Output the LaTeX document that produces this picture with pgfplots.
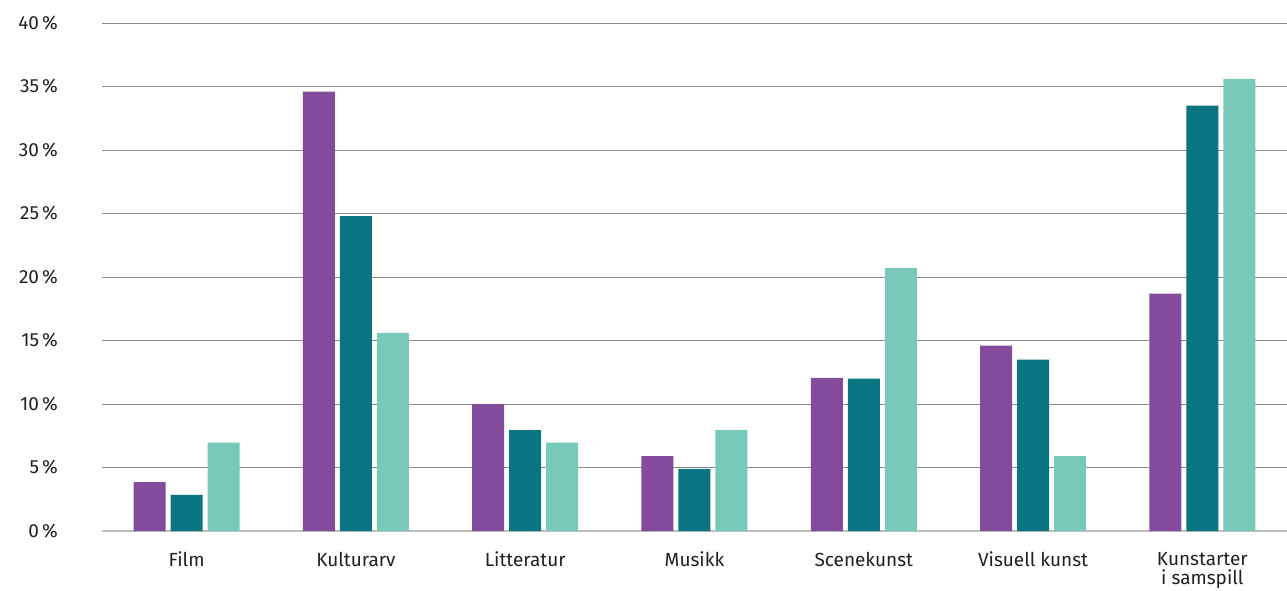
\documentclass[border=0pt]{standalone}
\usepackage{pgfplots}
\pgfplotsset{compat=1.18}
\usepackage{fontspec}
\setmainfont{Fira Sans}
\definecolor{cpurple}{HTML}{844A9C}
\definecolor{cteal}{HTML}{0B7482}
\definecolor{clight}{HTML}{78C9B9}
\definecolor{ctext}{HTML}{231F20}
\begin{document}
\begin{tikzpicture}
\useasboundingbox (-51pt,-29.5pt) rectangle (592.5pt,265.5pt);
\begin{axis}[
    at={(0,0)}, anchor=south west,
    width=592.5pt, height=254pt, scale only axis,
    ybar=2.5pt, bar width=16pt,
    xmin=-0.5, xmax=6.5, ymin=0, ymax=40,
    xtick=data,
    xticklabels={Film,Kulturarv,Litteratur,Musikk,Scenekunst,Visuell kunst,{Kunstarter\\i samspill}},
    ytick={0,5,...,40},
    yticklabel={\pgfmathprintnumber{\tick}\,\%},
    /pgf/number format/assume math mode=true,
    major tick length=0pt,
    axis x line*=bottom, axis y line*=left,
    y axis line style={draw=none},
    x axis line style={draw=black!25, line width=0.9pt},
    ymajorgrids, grid style={black!45, line width=0.5pt},
    ticklabel style={font=\fontsize{9.5}{9.8}\selectfont, text=ctext},
    xticklabel style={align=center, anchor=north, yshift=-7pt},
    yticklabel style={anchor=east, xshift=-18.5pt},
    enlarge x limits=false,
]
\addplot[fill=cpurple, draw=none] coordinates {(0,3.85) (1,34.6) (2,10.0) (3,5.9) (4,12.05) (5,14.6) (6,18.7)};
\addplot[fill=cteal, draw=none] coordinates {(0,2.85) (1,24.8) (2,7.95) (3,4.9) (4,12.0) (5,13.5) (6,33.5)};
\addplot[fill=clight, draw=none] coordinates {(0,6.95) (1,15.6) (2,6.95) (3,7.95) (4,20.7) (5,5.9) (6,35.6)};
\end{axis}
\end{tikzpicture}
\end{document}
